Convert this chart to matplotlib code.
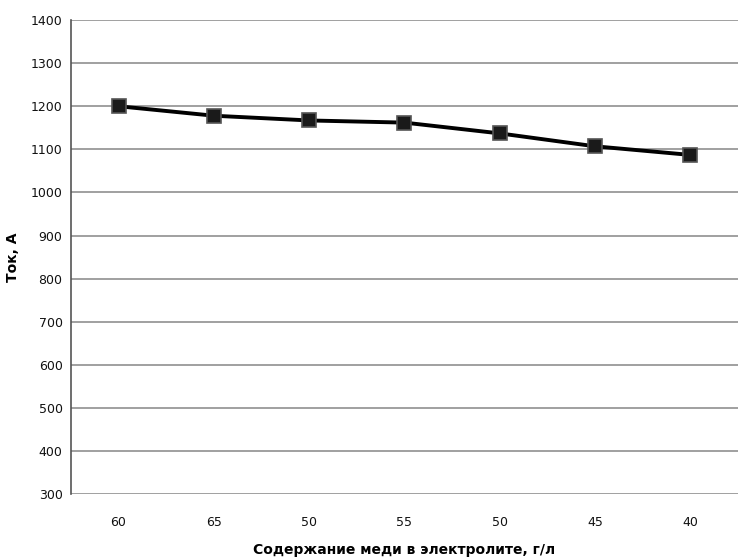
import matplotlib.pyplot as plt

# Data
copper = ['60', '65', '50', '55', '50', '45', '40']
current = [1200, 1178, 1167, 1162, 1137, 1107, 1087]
y_ticks = list(range(300, 1401, 100))

plt.rcParams['font.family'] = ['Liberation Sans Narrow', 'DejaVu Sans']

fig = plt.figure(figsize=(7.38, 5.57), dpi=100)
ax = fig.add_axes([0.096, 0.113, 0.904, 0.851])

x = list(range(len(copper)))
ax.plot(x, current, color='black', linewidth=2.8, marker='s', markersize=10,
        markerfacecolor='#1a1a1a', markeredgecolor='#555555', markeredgewidth=1.2, zorder=3)

ax.set_xlim(-0.5, len(copper) - 0.5)
ax.set_ylim(300, 1400)
ax.set_yticks(y_ticks)
ax.set_xticks(x)
ax.set_xticklabels(copper)
ax.grid(axis='y', color='#909090', linewidth=1.2)
ax.set_axisbelow(True)

for s in ['top', 'right', 'bottom']:
    ax.spines[s].set_visible(False)
ax.spines['left'].set_color('#555555')
ax.spines['left'].set_linewidth(1.2)
ax.tick_params(axis='both', length=0, labelsize=9, colors='#111111')
ax.tick_params(axis='x', pad=16)
ax.tick_params(axis='y', pad=6)

ax.set_xlabel('Содержание меди в электролите, г/л', fontsize=10, fontweight='bold', labelpad=10)
ax.set_ylabel('Ток, А', fontsize=10, fontweight='bold', labelpad=8)

fig.savefig('out.png', dpi=100, facecolor='white')
